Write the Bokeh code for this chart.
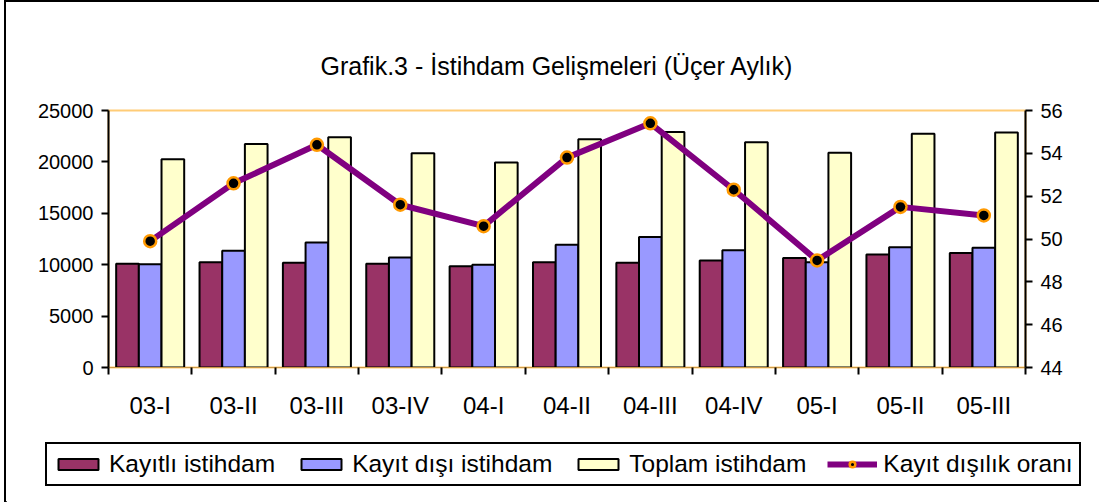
import numpy as np
from bokeh.plotting import figure
from bokeh.layouts import column
from bokeh.models import Range1d, LinearAxis, FixedTicker, Legend, LegendItem, ColumnDataSource
from bokeh.transform import dodge
from bokeh.embed import file_html
from bokeh.resources import INLINE

categories = ["03-I", "03-II", "03-III", "03-IV", "04-I", "04-II", "04-III",
              "04-IV", "05-I", "05-II", "05-III"]
kayitli = [10100, 10250, 10200, 10100, 9850, 10250, 10200, 10400, 10650, 11000, 11150]
kayit_disi = [10050, 11350, 12150, 10700, 10000, 11950, 12700, 11400, 10250, 11700, 11650]
toplam = [20250, 21750, 22400, 20850, 19950, 22200, 22900, 21900, 20900, 22750, 22850]
oran = [49.9, 52.6, 54.4, 51.6, 50.6, 53.8, 55.4, 52.3, 49.0, 51.5, 51.1]
series_names = ["Kayıtlı istihdam", "Kayıt dışı istihdam", "Toplam istihdam",
                "Kayıt dışılık oranı"]

FONT = "Liberation Sans"
C_RED, C_BLUE, C_YEL = "#993366", "#9999FF", "#FFFFCC"
C_LINE, C_MARK_EDGE = "#800080", "#FF9900"
n = len(categories)
xc = np.arange(n)
bw = 0.272

src = ColumnDataSource(dict(x=xc, kayitli=kayitli, kayit_disi=kayit_disi,
                            toplam=toplam, oran=oran))

p = figure(width=1093, height=428, x_range=Range1d(-0.5, n - 0.5),
           y_range=Range1d(0, 25000), output_backend="svg", toolbar_location=None,
           min_border_left=102, min_border_right=74, min_border_top=108,
           min_border_bottom=63)
p.frame_align = False
p.background_fill_color = "white"
p.border_fill_color = "white"
p.xgrid.visible = False
p.ygrid.visible = False
p.outline_line_color = "#FFCC77"
p.outline_line_width = 2

# title
p.title.text = "Grafik.3 - İstihdam Gelişmeleri (Üçer Aylık)"
p.title.align = "left"
p.title.offset = 212
p.title.text_font = FONT
p.title.text_font_size = "25px"
p.title.text_font_style = "normal"
p.title.text_color = "black"
p.title.standoff = 61

# bars
r1 = p.vbar(x=dodge("x", -bw, range=p.x_range), top="kayitli", width=bw, source=src,
            fill_color=C_RED, line_color="black", line_width=2)
r2 = p.vbar(x=dodge("x", 0, range=p.x_range), top="kayit_disi", width=bw, source=src,
            fill_color=C_BLUE, line_color="black", line_width=2)
r3 = p.vbar(x=dodge("x", bw, range=p.x_range), top="toplam", width=bw, source=src,
            fill_color=C_YEL, line_color="black", line_width=2)

# right axis & line
p.extra_y_ranges = {"rate": Range1d(44, 56)}
r4 = p.line(x="x", y="oran", source=src, y_range_name="rate", line_color=C_LINE,
            line_width=6)
r5 = p.scatter(x="x", y="oran", source=src, y_range_name="rate", size=12,
               fill_color="black", line_color=C_MARK_EDGE, line_width=2.5)

# x axis
xa = p.xaxis[0]
xa.ticker = FixedTicker(ticks=[int(i) for i in xc], minor_ticks=[i - 0.5 for i in range(n + 1)])
xa.major_label_overrides = {int(i): c for i, c in zip(xc, categories)}
xa.major_tick_line_color = None
xa.major_tick_out = 0
xa.major_tick_in = 0
xa.minor_tick_line_color = "black"
xa.minor_tick_line_width = 2
xa.minor_tick_out = 7
xa.minor_tick_in = 0
xa.axis_line_color = "#CC9944"
xa.axis_line_width = 1
xa.major_label_text_font = FONT
xa.major_label_text_font_size = "24px"
xa.major_label_text_color = "black"
xa.major_label_standoff = 17

# left axis
ya = p.yaxis[0]
ya.ticker = FixedTicker(ticks=[0, 5000, 10000, 15000, 20000, 25000])
ya.minor_tick_line_color = None
ya.major_tick_out = 7
ya.major_tick_in = 0
ya.major_tick_line_width = 2
ya.axis_line_width = 2
ya.axis_line_color = "black"
ya.major_label_text_font = FONT
ya.major_label_text_font_size = "20px"
ya.major_label_text_color = "black"
ya.major_label_standoff = 8

ra = LinearAxis(y_range_name="rate", ticker=FixedTicker(ticks=[44, 46, 48, 50, 52, 54, 56]))
ra.minor_tick_line_color = None
ra.major_tick_out = 7
ra.major_tick_in = 0
ra.major_tick_line_width = 2
ra.axis_line_width = 2
ra.axis_line_color = "black"
ra.major_label_text_font = FONT
ra.major_label_text_font_size = "20px"
ra.major_label_text_color = "black"
ra.major_label_standoff = 8
p.add_layout(ra, "right")

# legend strip (separate figure below the chart)
q = figure(width=1093, height=72, x_range=Range1d(0, 1), y_range=Range1d(0, 1),
           output_backend="svg", toolbar_location=None, min_border=0,
           min_border_left=0, min_border_right=0, min_border_top=0, min_border_bottom=0,
           x_axis_location=None, y_axis_location=None)
q.frame_align = False
q.outline_line_color = None
q.xgrid.visible = False
q.ygrid.visible = False
q.background_fill_color = "white"
q.border_fill_color = "white"
hidden = ColumnDataSource(dict(x=[-10, -9], y=[-10, -10]))
l1 = q.vbar(x="x", top="y", width=0.1, source=hidden, fill_color=C_RED, line_color="black", line_width=2)
l2 = q.vbar(x="x", top="y", width=0.1, source=hidden, fill_color=C_BLUE, line_color="black", line_width=2)
l3 = q.vbar(x="x", top="y", width=0.1, source=hidden, fill_color=C_YEL, line_color="black", line_width=2)
l4 = q.line(x="x", y="y", source=hidden, line_color=C_LINE, line_width=6)
l5 = q.scatter(x="x", y="y", source=hidden, size=14, fill_color="black",
               line_color=C_MARK_EDGE, line_width=2.5)

legend = Legend(items=[
    LegendItem(label=series_names[0], renderers=[l1]),
    LegendItem(label=series_names[1], renderers=[l2]),
    LegendItem(label=series_names[2], renderers=[l3]),
    LegendItem(label=series_names[3], renderers=[l4, l5]),
], orientation="horizontal", location=(39, 16))
legend.border_line_color = "black"
legend.border_line_alpha = 1.0
legend.border_line_width = 2
legend.background_fill_color = "white"
legend.background_fill_alpha = 1
legend.label_text_font = FONT
legend.label_text_font_size = "24.5px"
legend.label_text_color = "black"
legend.glyph_width = 50
legend.glyph_height = 14
legend.label_standoff = 6
legend.spacing = 21
legend.padding = 6
legend.margin = 0
q.add_layout(legend)

layout = column(p, q, spacing=0,
                styles={"border-left": "2px solid black", "border-top": "2px solid black",
                        "margin-left": "4px"})
open("out.html", "w").write(file_html(layout, INLINE))
